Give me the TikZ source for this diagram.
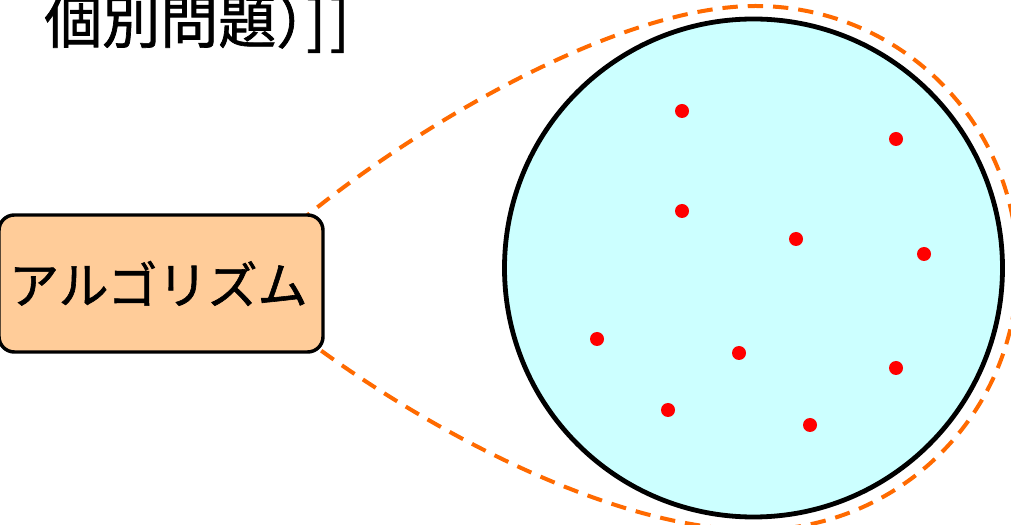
\documentclass[tikz,border=0pt]{standalone}
\usepackage{fontspec}
\newfontfamily\jp[FakeBold=1.2]{Noto Sans CJK JP}
\usetikzlibrary{calc,backgrounds}
\definecolor{boxfill}{HTML}{FFCC99}
\definecolor{poolfill}{HTML}{CCFFFF}
\definecolor{zoomline}{HTML}{FF6A00}
\tikzset{
  algbox/.style={draw=black, line width=2.6pt, fill=boxfill, rounded corners=11.5pt,
    minimum width=243pt, minimum height=102.75pt, inner sep=0pt, font=\jp\fontsize{37.5pt}{40pt}\selectfont},
  poolcircle/.style={circle, draw=black, line width=3.6pt, fill=poolfill, minimum size=373.5pt, inner sep=0pt},
  dot/.style={circle, fill=red, minimum size=10.5pt, inner sep=0pt},
  zoomdash/.style={draw=zoomline, line width=3pt, dash pattern=on 11.5pt off 7.5pt},
  titletext/.style={anchor=base west, inner sep=0pt, font=\jp\fontsize{43.5pt}{48pt}\selectfont}
}
\begin{document}
\begin{tikzpicture}[x=0.75pt, y=0.75pt]
\useasboundingbox (0,0) rectangle (1011,525);
\node[titletext] (title) at (44,482) {個別問題）\kern-21pt]\kern3pt]};
\node[algbox] (box) at (161,241.5) {\kern-4pt アルゴリズム};
\node[poolcircle] (pool) at (753.5,257) {};
\node[dot] (d1) at (682,414) {};
\node[dot] (d2) at (896,386) {};
\node[dot] (d3) at (682,314) {};
\node[dot] (d4) at (796,286) {};
\node[dot] (d5) at (924,271) {};
\node[dot] (d6) at (597,186) {};
\node[dot] (d7) at (739,172) {};
\node[dot] (d8) at (896,157) {};
\node[dot] (d9) at (668,115) {};
\node[dot] (d10) at (810,100) {};
\begin{scope}[on background layer]
\fill[white] (0,0) rectangle (1011,525);
\draw[zoomdash]
  ($(box.north east)+(-27,-10)$) .. controls (402,389) and (612,519) .. ($(pool.center)+(2,262)$)
  arc[start angle=90, end angle=-90, radius=262]
  .. controls (605,-5) and (410,106) .. ($(box.south east)+(-25,19)$);
\end{scope}
\end{tikzpicture}
\end{document}
